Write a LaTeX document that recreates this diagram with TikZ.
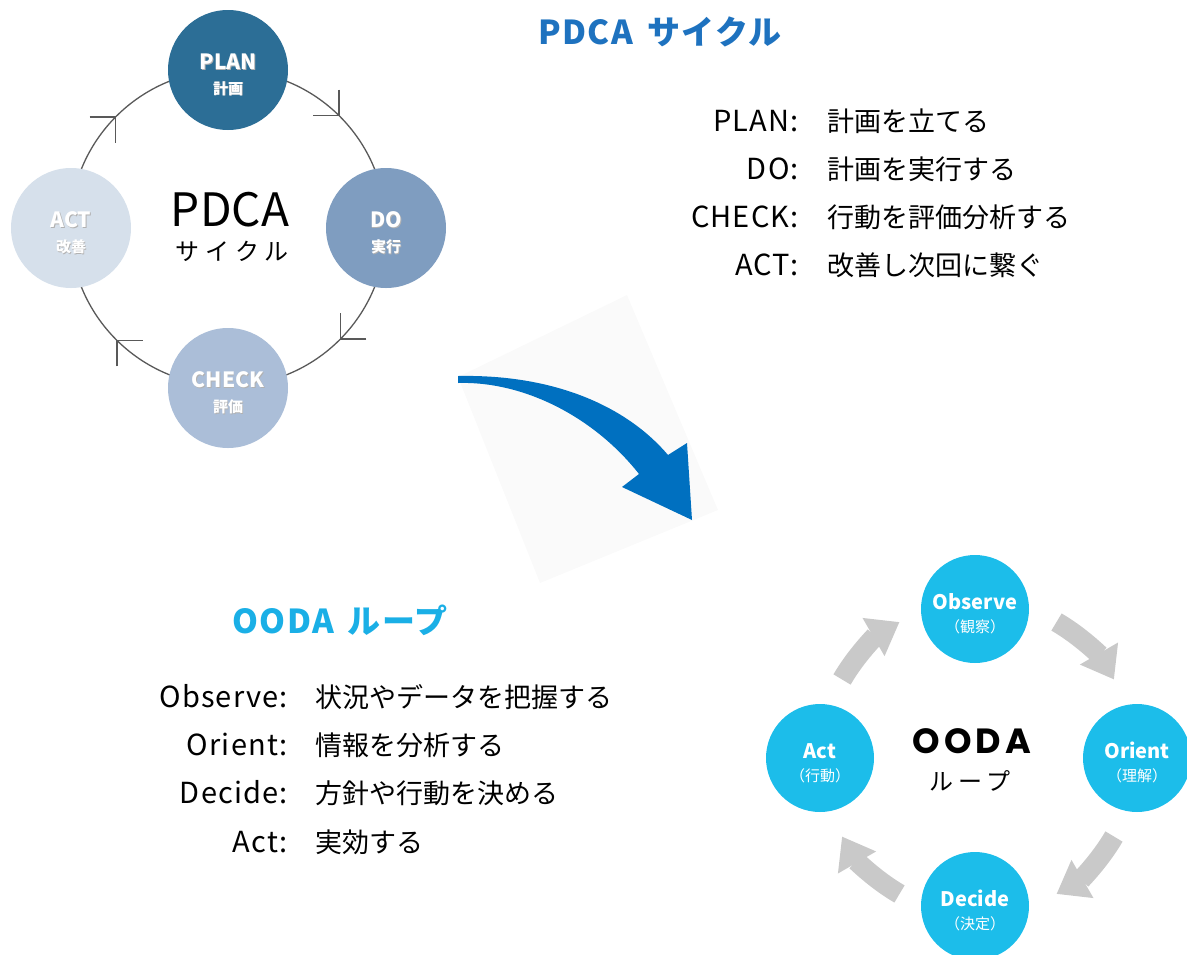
\documentclass[tikz,border=0pt]{standalone}
\usepackage{fontspec}
\setmainfont{Noto Sans CJK JP}
\newfontfamily\popfont{Poppins}
\usetikzlibrary{arrows.meta,decorations.markings,positioning}

\definecolor{planblue}{HTML}{2C6E96}
\definecolor{doblue}{HTML}{7F9DC0}
\definecolor{checkblue}{HTML}{ABBED8}
\definecolor{actblue}{HTML}{D6E0EB}
\definecolor{titleblue}{HTML}{1E72BF}
\definecolor{oodacyan}{HTML}{1CBDEA}
\definecolor{oodatitle}{HTML}{1AAFE6}
\definecolor{bigarrow}{HTML}{0070C0}
\definecolor{loopgray}{HTML}{C9C9C9}

\newcommand{\fs}[1]{\fontsize{#1}{#1}\selectfont}
\newcommand{\shtxt}[1]{\rlap{\hspace{0.8pt}\raisebox{-0.8pt}{\textcolor{black!30}{#1}}}\textcolor{white}{#1}}

\tikzset{
  pdcanode/.style={circle, minimum size=120pt, inner sep=0pt, align=center},
  oodanode/.style={circle, fill=oodacyan, minimum size=108pt, inner sep=0pt, align=center, text=white},
  ring/.style={draw=black!65, line width=1.3pt, postaction={decorate},
    decoration={markings, mark=between positions 0.125 and 0.9 step 0.25 with {\arrow{Straight Barb[angle=90:26pt]}}}},
  loop arrow/.style={draw=loopgray, line width=20pt, -{Triangle[length=30pt,width=42pt]}},
  listkey/.style={anchor=base east, font=\fs{29}\addfontfeatures{LetterSpace=4}, inner sep=0pt},
  listval/.style={anchor=base west, font=\fs{27}, inner sep=0pt},
  titletext/.style={font=\fs{33}\bfseries\addfontfeatures{LetterSpace=4}},
}

\begin{document}
\begin{tikzpicture}[x=1pt,y=-1pt]
\useasboundingbox (0,0) rectangle (1187,954);

% faint card behind the big arrow
\fill[black!2] (458,377) -- (627,295) -- (718,510) -- (540,583) -- cycle;

% PDCA cycle
\coordinate (pdcacenter) at (228,228);
\draw[ring] (pdcacenter) circle[radius=158];
\node[pdcanode, fill=planblue] (plan) at (228,70) {{\fs{21}\bfseries\rule{0pt}{26pt}\shtxt{PLAN}}\\[10pt]{\fs{15}\bfseries\shtxt{計画}}};
\node[pdcanode, fill=doblue] (do) at (386,228) {{\fs{21}\bfseries\rule{0pt}{26pt}\shtxt{DO}}\\[10pt]{\fs{15}\bfseries\shtxt{実行}}};
\node[pdcanode, fill=checkblue] (check) at (228,388) {{\fs{21}\bfseries\rule{0pt}{26pt}\shtxt{CHECK}}\\[10pt]{\fs{15}\bfseries\shtxt{評価}}};
\node[pdcanode, fill=actblue] (act) at (71,228) {{\fs{21}\bfseries\rule{0pt}{26pt}\shtxt{ACT}}\\[10pt]{\fs{15}\bfseries\shtxt{改善}}};
\node[font=\fs{46}] (pdca) at (230,210) {PDCA};
\node[font=\fs{24}] (pdcasub) at (232,251) {\addfontfeatures{LetterSpace=25}サイクル};

% PDCA title and list
\node[titletext, text=titleblue] (pdcatitle) at (660,32) {PDCA\hspace{14pt}サイクル};
\node[listkey] (kplan) at (799,131) {PLAN:};
\node[listkey] (kdo) at (799,179) {DO:};
\node[listkey] (kcheck) at (799,227) {CHECK:};
\node[listkey] (kact) at (799,275) {ACT:};
\node[listval] (vplan) at (827,131) {計画を立てる};
\node[listval] (vdo) at (827,179) {計画を実行する};
\node[listval] (vcheck) at (827,227) {行動を評価分析する};
\node[listval] (vact) at (827,275) {改善し次回に繋ぐ};

% big blue arrow
\fill[bigarrow] (458,376) .. controls (560,374) and (630,410) .. (668,455)
  -- (687,443) -- (692,520) -- (622,487) -- (639,474)
  .. controls (595,418) and (525,381) .. (458,383) -- cycle;

% OODA title and list
\node[titletext, text=oodatitle] (oodatitle) at (340,620) {OODA\hspace{14pt}ループ};
\node[listkey] (kobserve) at (288,707) {Observe:};
\node[listkey] (korient) at (288,755) {Orient:};
\node[listkey] (kdecide) at (288,803) {Decide:};
\node[listkey] (kactb) at (288,852) {Act:};
\node[listval] (vobserve) at (315,707) {状況やデータを把握する};
\node[listval] (vorient) at (315,755) {情報を分析する};
\node[listval] (vdecide) at (315,803) {方針や行動を決める};
\node[listval] (vactb) at (315,852) {実効する};

% OODA loop
\coordinate (oodacenter) at (978,758);
\foreach \a in {-90,0,90,180}
  \draw[loop arrow] (oodacenter) ++(\a+30:157) arc[start angle=\a+30, end angle=\a+60, radius=157];
\node[oodanode] (observe) at (975,609) {{\fs{20}\bfseries\rule{0pt}{25pt}Observe}\\[9pt]{\fs{15}（観察）}};
\node[oodanode] (orient) at (1137,758) {{\fs{20}\bfseries\rule{0pt}{25pt}Orient}\\[9pt]{\fs{15}（理解）}};
\node[oodanode] (decide) at (975,906) {{\fs{20}\bfseries\rule{0pt}{25pt}Decide}\\[9pt]{\fs{15}（決定）}};
\node[oodanode] (actb) at (820,758) {{\fs{20}\bfseries\rule{0pt}{25pt}Act}\\[9pt]{\fs{15}（行動）}};
\node[font=\fs{35}\bfseries\popfont] (ooda) at (972,741) {\addfontfeatures{LetterSpace=12}OODA};
\node[font=\fs{24}] (oodasub) at (970,781) {\addfontfeatures{LetterSpace=20}ループ};
\end{tikzpicture}
\end{document}
